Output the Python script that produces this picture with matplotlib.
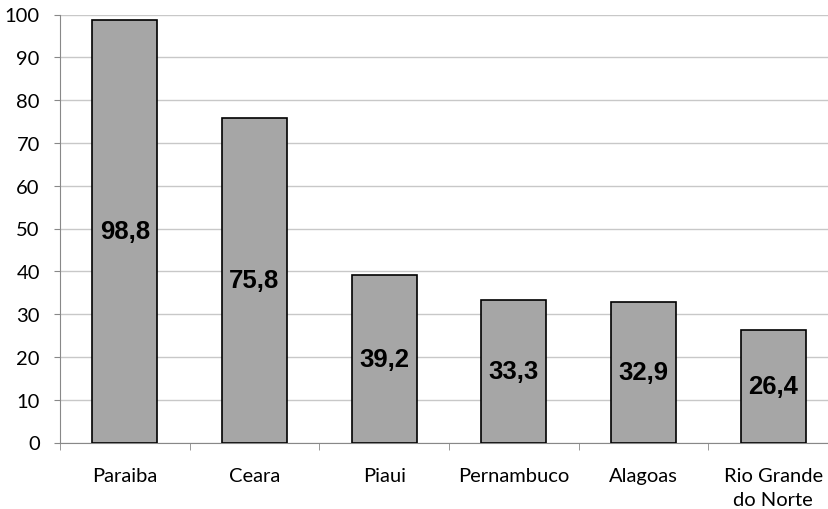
import matplotlib
matplotlib.use("Agg")
import matplotlib.pyplot as plt
import numpy as np

categories = ["Paraiba", "Ceara", "Piaui", "Pernambuco", "Alagoas", "Rio Grande\ndo Norte"]
values = [98.8, 75.8, 39.2, 33.3, 32.9, 26.4]
labels = ["98,8", "75,8", "39,2", "33,3", "32,9", "26,4"]
yticks = [0, 10, 20, 30, 40, 50, 60, 70, 80, 90, 100]

fig = plt.figure(figsize=(8.29, 5.10), dpi=100)
left_px, right_px, bot_px, top_px = 60, 838, 443.5, 15.5
ax = fig.add_axes([left_px/829, 1-bot_px/510, (right_px-left_px)/829, (bot_px-top_px)/510])

x = np.arange(len(categories))
ax.bar(x, values, width=0.5, color="#A6A6A6", edgecolor="black", linewidth=1.2, zorder=3)

for xi, v, lab in zip(x, values, labels):
    ax.text(xi, v/2, lab, ha="center", va="center", fontsize=18.5, fontweight="bold",
            family="Liberation Sans", zorder=4)

ax.set_xlim(-0.5, len(categories)-0.5)
ax.set_ylim(0, 100)
ax.set_yticks(yticks)
ax.set_yticklabels([str(t) for t in yticks], family="Lato", fontsize=14.5)
ax.yaxis.grid(True, color="#C8C8C8", linewidth=1, zorder=0)
ax.set_axisbelow(True)

ax.set_xticks(x)
ax.set_xticklabels(categories, family="Lato", fontsize=14.5, linespacing=1.5)
ax.tick_params(axis="x", length=0, pad=18)
ax.set_xticks(np.arange(-0.5, len(categories)), minor=True)
ax.tick_params(axis="x", which="minor", length=5, color="#888888", direction="out")
ax.tick_params(axis="y", length=4.5, color="#888888", pad=10)

for s in ["top", "right"]:
    ax.spines[s].set_visible(False)
ax.spines["left"].set_color("#888888")
ax.spines["bottom"].set_color("#888888")

fig.savefig("out.png", dpi=100)
